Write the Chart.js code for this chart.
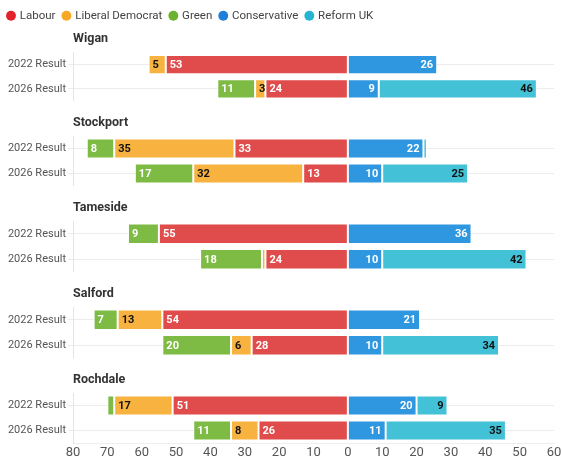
<!DOCTYPE html>
<html>
<head>
<meta charset="utf-8">
<script src="https://cdn.jsdelivr.net/npm/chart.js@4"></script>
<style>
  body { margin: 0; background: #fff; }
  .facet { position: relative; width: 562px; }
</style>
</head>
<body>
<div id="wrap"></div>
<script>
// councils, two rows each (2022 then 2026)
const councils = ["Wigan", "Stockport", "Tameside", "Salford", "Rochdale"];
const rows = ["2022 Result", "2026 Result"];

// seats, pairs per council: [2022, 2026]
const labour       = [53, 24, 33, 13, 55, 24, 54, 28, 51, 26];
const libDem       = [5, 3, 35, 32, 0, 1, 13, 6, 17, 8];
const green        = [0, 11, 8, 17, 9, 18, 7, 20, 2, 11];
const conservative = [26, 9, 22, 10, 36, 10, 21, 10, 20, 11];
const reform       = [0, 46, 1, 25, 0, 42, 0, 34, 9, 35];

const axisMin = -80, axisMax = 60;

// left side parties are drawn as negative values
const parties = [
  { name: "Labour", values: labour, side: -1, color: "#e04b4b", dot: "#e3222c", text: "#fff" },
  { name: "Liberal Democrat", values: libDem, side: -1, color: "#f7b23f", dot: "#f9a825", text: "#111" },
  { name: "Green", values: green, side: -1, color: "#7dbb44", dot: "#6bb22e", text: "#fff" },
  { name: "Conservative", values: conservative, side: 1, color: "#2f97df", dot: "#1f7fd8", text: "#fff" },
  { name: "Reform UK", values: reform, side: 1, color: "#43c1d7", dot: "#26b5d0", text: "#111" }
];

// numbers inside the bars, at the outer end
const barLabels = {
  id: "barLabels",
  afterDatasetsDraw(chart) {
    const ctx = chart.ctx;
    ctx.save();
    ctx.font = "bold 11px Roboto";
    ctx.textBaseline = "middle";
    chart.data.datasets.forEach((ds, i) => {
      chart.getDatasetMeta(i).data.forEach((bar, j) => {
        const v = ds.data[j];
        if (Math.abs(v) < 3) return;
        ctx.fillStyle = ds.labelColor;
        if (v < 0) {
          ctx.textAlign = "left";
          ctx.fillText(Math.abs(v), bar.x + 4, bar.y + 0.5);
        } else {
          ctx.textAlign = "right";
          ctx.fillText(v, bar.x - 4, bar.y + 0.5);
        }
      });
    });
    ctx.restore();
  }
};

const heights = [101, 85, 86, 86, 101];
const wrap = document.getElementById("wrap");

councils.forEach((council, c) => {
  const first = c === 0;
  const last = c === councils.length - 1;

  const div = document.createElement("div");
  div.className = "facet";
  div.style.height = heights[c] + "px";
  const canvas = document.createElement("canvas");
  div.appendChild(canvas);
  wrap.appendChild(div);

  const datasets = parties.map(p => ({
    label: p.name,
    data: p.values.slice(c * 2, c * 2 + 2).map(v => v * p.side),
    backgroundColor: p.color,
    borderColor: "rgba(255,255,255,0.85)",
    borderWidth: 1,
    borderSkipped: false,
    labelColor: p.text,
    barPercentage: 1,
    categoryPercentage: 0.8
  }));

  new Chart(canvas.getContext("2d"), {
    type: "bar",
    data: { labels: rows, datasets: datasets },
    plugins: [barLabels],
    options: {
      indexAxis: "y",
      responsive: true,
      maintainAspectRatio: false,
      animation: false,
      layout: { padding: { left: 0, right: 8, top: first ? 2 : 0, bottom: 0 } },
      plugins: {
        tooltip: { enabled: false },
        legend: {
          display: first,
          position: "top",
          align: "start",
          weight: 3000,
          labels: {
            usePointStyle: true,
            pointStyle: "circle",
            boxWidth: 6,
            boxHeight: 7,
            padding: 8,
            color: "#444",
            font: { family: "Roboto", size: 11.5 },
            generateLabels: (chart) => parties.map((p, i) => ({
              text: p.name,
              fillStyle: p.dot,
              strokeStyle: p.dot,
              lineWidth: 0,
              pointStyle: "circle",
              fontColor: "#444",
              datasetIndex: i
            }))
          }
        },
        title: {
          display: true,
          text: council,
          align: "start",
          fullSize: false,
          color: "#333",
          font: { family: "Roboto", weight: "bold", size: 12.5 },
          padding: { top: first ? 0 : 14, bottom: 6 }
        }
      },
      scales: {
        x: {
          stacked: true,
          min: axisMin,
          max: axisMax,
          display: last,
          afterFit: s => {
            s.height = last ? 16 : 0;
            s.paddingLeft = 0;
            s.paddingRight = 0;
          },
          grid: { display: false, drawTicks: false },
          border: { display: true, color: "#eeeeee" },
          ticks: {
            stepSize: 10,
            padding: 3,
            color: "#555",
            font: { family: "Roboto", size: 13, lineHeight: 1 },
            callback: v => Math.abs(v)
          }
        },
        y: {
          stacked: true,
          afterFit: s => {
            s.width = 73;
            s.paddingTop = 0;
            s.paddingBottom = 0;
          },
          grid: { offset: false, color: "#ececec", tickLength: 5 },
          border: { color: "#e4e4e4" },
          ticks: {
            padding: 2,
            color: "#555",
            font: { family: "Roboto", size: 11 }
          }
        }
      }
    }
  });
});
</script>
</body>
</html>
